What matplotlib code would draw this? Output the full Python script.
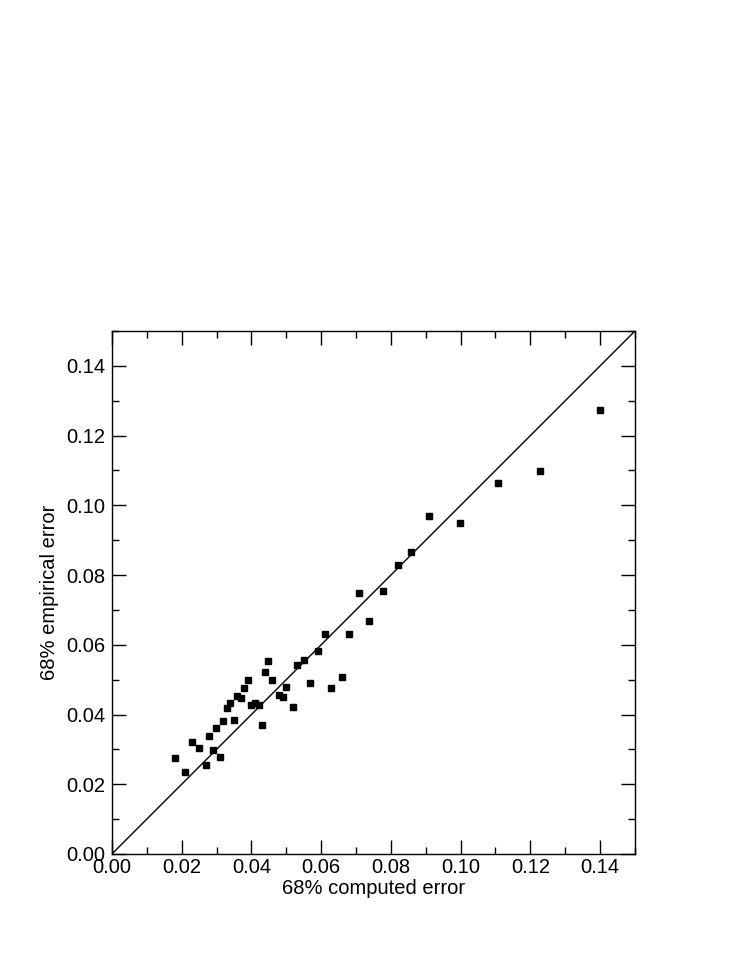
import matplotlib
matplotlib.use("Agg")
import matplotlib.pyplot as plt
from matplotlib.ticker import MultipleLocator

# -- Data ---------------------------------------------------------------------
computed = [0.0181, 0.0209, 0.0229, 0.0249, 0.0270, 0.0278, 0.0290, 0.0298,
            0.0310, 0.0318, 0.0330, 0.0338, 0.0350, 0.0358, 0.0370, 0.0379,
            0.0390, 0.0399, 0.0410, 0.0422, 0.0430, 0.0439, 0.0447, 0.0459,
            0.0479, 0.0490, 0.0499, 0.0519, 0.0531, 0.0551, 0.0568, 0.0591,
            0.0611, 0.0628, 0.0660, 0.0680, 0.0708, 0.0737, 0.0777, 0.0820,
            0.0857, 0.0909, 0.0998, 0.1107, 0.1227, 0.1400]
empirical = [0.0275, 0.0235, 0.0321, 0.0304, 0.0255, 0.0338, 0.0298, 0.0361,
             0.0278, 0.0381, 0.0419, 0.0433, 0.0384, 0.0453, 0.0447, 0.0476,
             0.0499, 0.0427, 0.0433, 0.0427, 0.0370, 0.0522, 0.0553, 0.0499,
             0.0456, 0.0450, 0.0479, 0.0422, 0.0542, 0.0556, 0.0490, 0.0582,
             0.0631, 0.0476, 0.0508, 0.0631, 0.0748, 0.0668, 0.0754, 0.0829,
             0.0866, 0.0969, 0.0949, 0.1064, 0.1098, 0.1273]
LIMIT = [0.0, 0.15]

plt.rcParams["font.family"] = ["Liberation Sans", "DejaVu Sans"]

fig = plt.figure(figsize=(7.47, 9.67), dpi=100)
ax = fig.add_axes([0.1499, 0.1169, 0.7001, 0.5408])

ax.plot(LIMIT, LIMIT, color="black", linewidth=1.0)
ax.plot(computed, empirical, linestyle="none", marker="s", markersize=4.3,
        color="black")

ax.set_xlim(*LIMIT); ax.set_ylim(*LIMIT)
ax.xaxis.set_major_locator(MultipleLocator(0.02))
ax.xaxis.set_minor_locator(MultipleLocator(0.01))
ax.yaxis.set_major_locator(MultipleLocator(0.02))
ax.yaxis.set_minor_locator(MultipleLocator(0.01))
ax.xaxis.set_major_formatter(lambda v, p: f"{v:.2f}")
ax.yaxis.set_major_formatter(lambda v, p: f"{v:.2f}")

ax.tick_params(which="both", direction="in", top=True, right=True, width=1.0)
ax.tick_params(which="major", length=10, labelsize=14.5)
ax.tick_params(axis="x", which="major", pad=3)
ax.tick_params(axis="y", which="major", pad=5)
ax.tick_params(which="minor", length=5)
for s in ax.spines.values():
    s.set_linewidth(1.0)

ax.set_xlabel("68% computed error", fontsize=14.5, labelpad=1)
ax.set_ylabel("68% empirical error", fontsize=14.5, labelpad=5)

fig.savefig("out.png", dpi=100)
